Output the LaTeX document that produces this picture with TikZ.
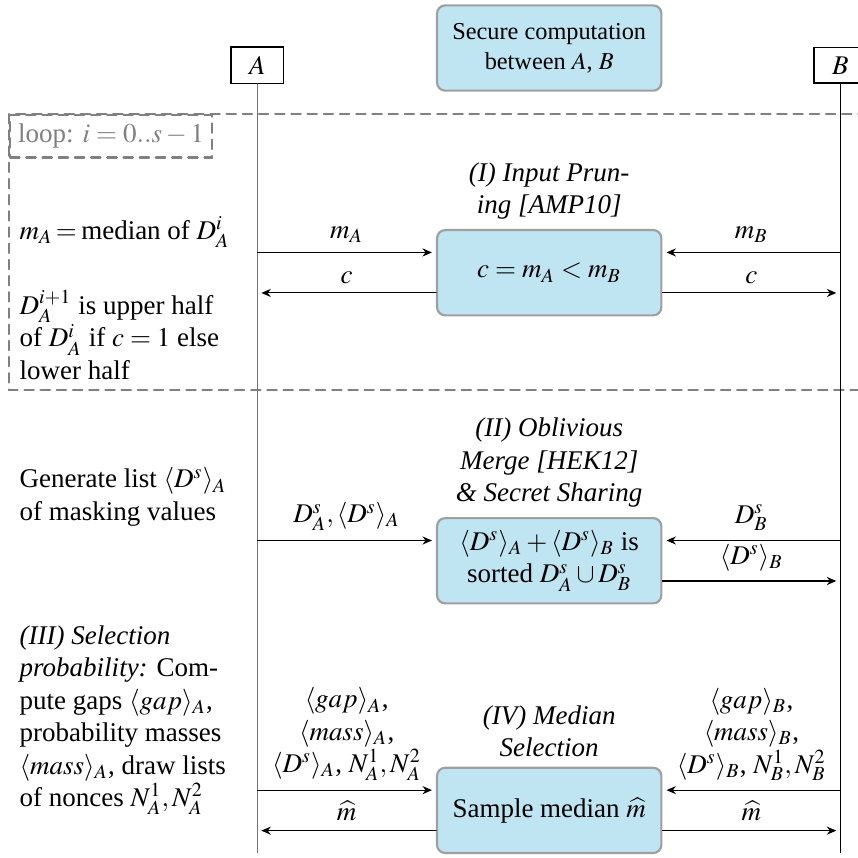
\documentclass[tikz,border=0pt]{standalone}
\usepackage{mathptmx}
\usepackage[no-math]{fontspec}
\setmainfont{Liberation Serif}
\usetikzlibrary{arrows.meta,positioning}
\definecolor{phasefill}{RGB}{191,228,242}

\begin{document}
\begin{tikzpicture}[line cap=round,
  party/.style={draw,semithick,minimum width=0.68cm,fill=white},
  phase/.style={draw=gray!75,line width=0.8pt,rounded corners=3pt,fill=phasefill,
    minimum width=2.92cm,minimum height=1.11cm,align=center},
  phaselbl/.style={align=center,font=\itshape},
  msg/.style={-{Stealth[length=3.5pt,width=3pt]},shorten >=1.5pt},
  note/.style={anchor=west,align=left,inner sep=0pt},
  loopline/.style={gray,line width=0.8pt,dash pattern=on 3.5pt off 2.5pt}]
  \useasboundingbox (0,0) rectangle (11.17,-11.16);

  \draw[loopline] (0.117,-1.484) rectangle (11.6,-5.08);
  \node[loopline,draw,text=gray,anchor=north west,inner xsep=3pt] (looptag) at (0.117,-1.484) {loop: $i=0..s-1$};

  \node[party] (A) at (3.35,-0.85) {$A$};
  \node[party] (B) at (10.94,-0.85) {$B$};
  \coordinate (Aend) at (3.35,-11.1);
  \coordinate (Bend) at (10.94,-11.1);
  \draw[gray!90!black,line width=0.6pt] (A) -- (Aend);
  \draw (B) -- (Bend);

  \node[phase,font=\small] (secure) at (7.15,-0.625) {Secure computation\\between $A$, $B$};
  \node[phase] (prune) at (7.15,-3.55) {$c=m_A<m_B$};
  \node[phase] (merge) at (7.15,-7.30) {$\langle D^s\rangle_A+\langle D^s\rangle_B$ is\\sorted $D^s_A\cup D^s_B$};
  \node[phase] (select) at (7.15,-10.55) {Sample median $\widehat{m}$};

  \node[phaselbl,above=0pt of prune] (pruneLbl) {(I) Input Prun-\\ing [AMP10]};
  \node[phaselbl,above=0pt of merge] (mergeLbl) {(II) Oblivious\\Merge [HEK12]\\\& Secret Sharing};
  \node[phaselbl,above=0pt of select] (selectLbl) {(IV) Median\\Selection};

  \foreach \s in {prune,merge,select} {
    \coordinate (\s-in) at ([yshift=7.5pt]\s.west);
    \coordinate (\s-out) at ([yshift=-7.5pt]\s.west);
    \coordinate (\s-bin) at ([yshift=7.5pt]\s.east);
    \coordinate (\s-bout) at ([yshift=-7.5pt]\s.east);
  }

  \draw[msg] (A |- prune-in) -- (prune-in) node[midway,above] {$m_A$};
  \draw[msg] (prune-out) -- (A |- prune-out) node[midway,above] {$c$};
  \draw[msg] (B |- prune-bin) -- (prune-bin) node[midway,above] {$m_B$};
  \draw[msg] (prune-bout) -- (B |- prune-bout) node[midway,above] {$c$};

  \draw[msg] (A |- merge-in) -- (merge-in) node[midway,above] {$D^s_A,\langle D^s\rangle_A$};
  \draw[msg] (B |- merge-bin) -- (merge-bin) node[midway,above] {$D^s_B$};
  \draw[msg] (merge-bout) -- (B |- merge-bout) node[midway,above] {$\langle D^s\rangle_B$};

  \draw[msg] (A |- select-in) -- (select-in) node[midway,above,align=center]
    {$\langle gap\rangle_A$,\\$\langle mass\rangle_A$,\\$\langle D^s\rangle_A$, $N^1_A,N^2_A$};
  \draw[msg] (select-out) -- (A |- select-out) node[midway,above] {$\widehat{m}$};
  \draw[msg] (B |- select-bin) -- (select-bin) node[midway,above,align=center]
    {$\langle gap\rangle_B$,\\$\langle mass\rangle_B$,\\$\langle D^s\rangle_B$, $N^1_B,N^2_B$};
  \draw[msg] (select-bout) -- (B |- select-bout) node[midway,above] {$\widehat{m}$};

  \node[note] (medNote) at (0.25,-3.02) {$m_A\!=$\,median of $D^i_A$};
  \node[note] (halfNote) at (0.25,-4.36) {$D^{i+1}_A$ is upper half\\of $D^i_A$ if $c=1$ else\\lower half};
  \node[note] (maskNote) at (0.25,-6.47) {Generate list $\langle D^s\rangle_A$\\of masking values};
  \node[note] (probNote) at (0.25,-9.375) {\textit{(III) Selection}\\\textit{probability:} Com-\\pute gaps $\langle gap\rangle_A$,\\probability masses\\$\langle mass\rangle_A$, draw lists\\of nonces $N^1_A,N^2_A$};
\end{tikzpicture}
\end{document}
